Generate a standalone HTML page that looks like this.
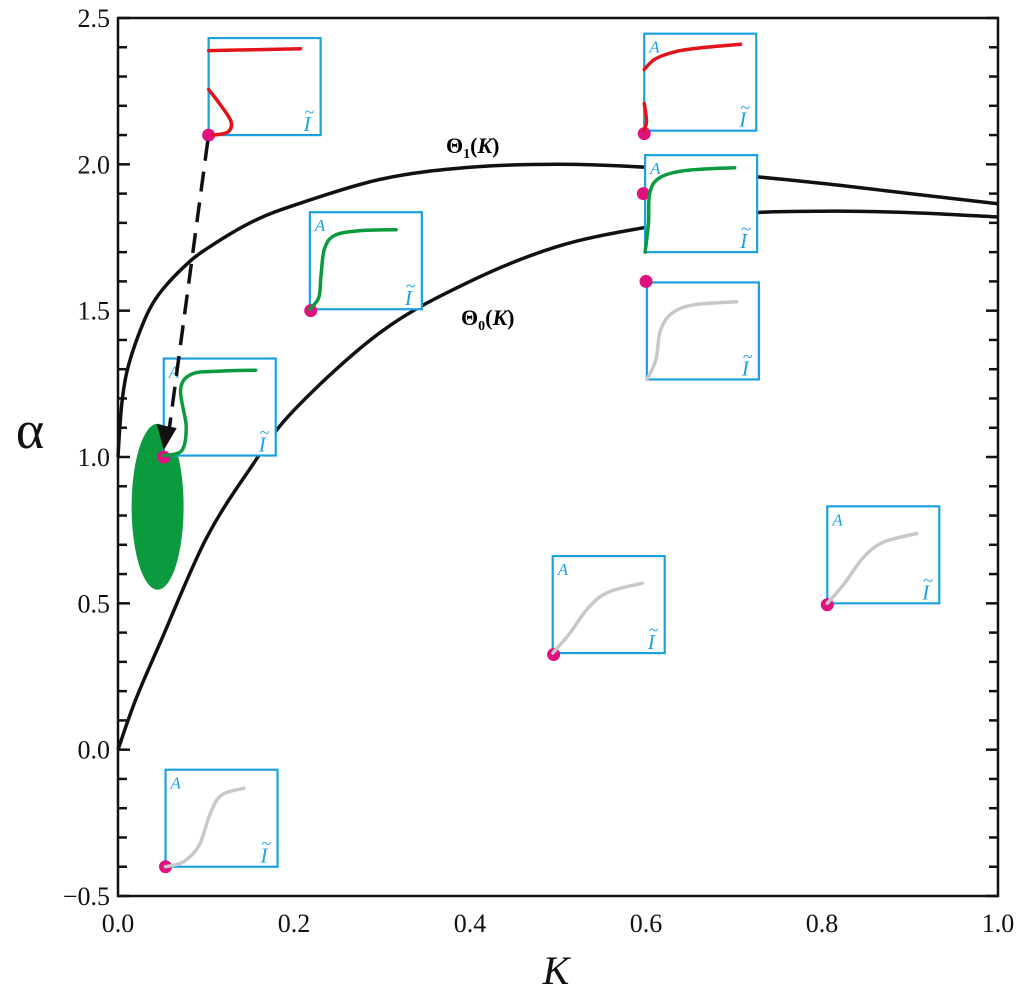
<!DOCTYPE html>
<html><head><meta charset="utf-8"><style>
html,body{margin:0;padding:0;background:#fff;}
svg{display:block;font-family:"Liberation Serif",serif;}
</style></head><body>
<svg id="chart" width="1024" height="997" viewBox="0 0 1024 997">
<g id="curves"></g>
<g id="region"></g>
<g id="insets"></g>
<g id="extras"></g>
<g id="axes"></g>
</svg>
<script>
const theta1K = [0, 0.002, 0.005, 0.01, 0.02, 0.035, 0.05, 0.075, 0.1, 0.15, 0.2, 0.3, 0.4, 0.5, 0.6, 0.7, 0.8, 0.9, 1.0];
const theta1A = [1.0, 1.1, 1.2, 1.29, 1.39, 1.5, 1.57, 1.65, 1.71, 1.8, 1.86, 1.95, 1.99, 2.0, 1.99, 1.965, 1.935, 1.9, 1.865];
const theta0K = [0, 0.02, 0.05, 0.1, 0.15, 0.2, 0.3, 0.4, 0.5, 0.6, 0.7, 0.8, 0.9, 1.0];
const theta0A = [0, 0.17, 0.38, 0.72, 0.96, 1.16, 1.43, 1.6, 1.72, 1.785, 1.83, 1.84, 1.835, 1.82];
const yTicks = [-0.5, 0.0, 0.5, 1.0, 1.5, 2.0, 2.5];
const xTicks = [0.0, 0.2, 0.4, 0.6, 0.8, 1.0];
const yTickLabels = ["\u22120.5", "0.0", "0.5", "1.0", "1.5", "2.0", "2.5"];
const xTickLabels = ["0.0", "0.2", "0.4", "0.6", "0.8", "1.0"];
const insetBoxK = [0.103, 0.218, 0.052, 0.054, 0.598, 0.599, 0.601, 0.494, 0.806];
const insetBoxA = [2.1, 1.505, 1.005, -0.4, 2.115, 1.7, 1.265, 0.33, 0.5];
const insetDotK = [0.103, 0.219, 0.052, 0.054, 0.598, 0.597, 0.6, 0.495, 0.806];
const insetDotA = [2.1, 1.5, 1.0, -0.4, 2.105, 1.9, 1.6, 0.325, 0.495];
const insetColor = ["#e3131b","#0c9a3e","#0c9a3e","#c8c8c8","#e3131b","#0c9a3e","#c8c8c8","#c8c8c8","#c8c8c8"];
const insetShowA = [false,true,true,true,true,true,false,true,true];
const insetCurves = [
  [[[0,0.87],[0.4,0.88],[0.82,0.89]], [[0,0.47],[0.1,0.32],[0.2,0.14],[0.17,0.03],[0.04,0]]],
  [[[0,0],[0.08,0.12],[0.1,0.35],[0.13,0.62],[0.22,0.76],[0.45,0.81],[0.77,0.82]]],
  [[[0,0],[0.16,0.05],[0.2,0.3],[0.15,0.68],[0.25,0.84],[0.5,0.87],[0.82,0.88]]],
  [[[0,0],[0.16,0.05],[0.3,0.22],[0.4,0.55],[0.5,0.74],[0.7,0.81]]],
  [[[0,0.63],[0.1,0.74],[0.3,0.82],[0.55,0.86],[0.86,0.89]], [[0,0.28],[0.02,0.1],[0,0]]],
  [[[0,0],[0.03,0.3],[0.04,0.6],[0.12,0.76],[0.35,0.84],[0.8,0.87]]],
  [[[0,0],[0.08,0.2],[0.12,0.5],[0.22,0.68],[0.42,0.77],[0.8,0.8]]],
  [[[0,0],[0.15,0.2],[0.32,0.47],[0.5,0.63],[0.8,0.72]]],
  [[[0,0],[0.15,0.2],[0.32,0.47],[0.5,0.63],[0.8,0.72]]]
];
const NS="http://www.w3.org/2000/svg";
const X0=118,X1=998,Y0=896,Y1=18,KMIN=0,KMAX=1,AMIN=-0.5,AMAX=2.5;
function xs(k){return X0+(k-KMIN)/(KMAX-KMIN)*(X1-X0);}
function ys(a){return Y0-(a-AMIN)/(AMAX-AMIN)*(Y0-Y1);}
function mk(tag,attrs,parent){const e=document.createElementNS(NS,tag);for(const k in attrs)e.setAttribute(k,attrs[k]);parent.appendChild(e);return e;}
function smooth(pts){
  if(pts.length<3){return "M"+pts.map(p=>p.join(",")).join("L");}
  let d="M"+pts[0][0]+","+pts[0][1];
  for(let i=0;i<pts.length-1;i++){
    const p0=pts[Math.max(0,i-1)],p1=pts[i],p2=pts[i+1],p3=pts[Math.min(pts.length-1,i+2)];
    const c1=[p1[0]+(p2[0]-p0[0])/6,p1[1]+(p2[1]-p0[1])/6];
    const c2=[p2[0]-(p3[0]-p1[0])/6,p2[1]-(p3[1]-p1[1])/6];
    d+="C"+c1[0].toFixed(1)+","+c1[1].toFixed(1)+" "+c2[0].toFixed(1)+","+c2[1].toFixed(1)+" "+p2[0].toFixed(1)+","+p2[1].toFixed(1);
  }
  return d;
}
const curves=document.getElementById('curves');
const c1=mk('path',{d:smooth(theta1K.map((k,i)=>[xs(k),ys(theta1A[i])])),fill:'none',stroke:'#111','stroke-width':3.5},curves);


const c0=mk('path',{d:smooth(theta0K.map((k,i)=>[xs(k),ys(theta0A[i])])),fill:'none',stroke:'#111','stroke-width':3.5},curves);


const l1=mk('text',{x:446,y:153,'font-size':22,'font-weight':'bold'},curves);
l1.innerHTML='\u0398<tspan font-size="14" dy="5">1</tspan><tspan dy="-5">(<tspan font-style="italic">K</tspan>)</tspan>';


const l0=mk('text',{x:461,y:325,'font-size':22,'font-weight':'bold'},curves);
l0.innerHTML='\u0398<tspan font-size="14" dy="5">0</tspan><tspan dy="-5">(<tspan font-style="italic">K</tspan>)</tspan>';


const rg=document.getElementById('region');
const el=mk('ellipse',{cx:xs(0.045),cy:ys(0.83),rx:26,ry:83,fill:'#0c9a3e'},rg);


const ins=document.getElementById('insets');
const BW=112,BH=97;
for(let i=0;i<insetBoxK.length;i++){
  const g=mk('g',{},ins);
  
  
  const bx=xs(insetBoxK[i]),by=ys(insetBoxA[i]);
  const r=mk('rect',{x:bx,y:by-BH,width:BW,height:BH,fill:'#fff',stroke:'#1ba1e2','stroke-width':2.2},g);
  
  
  const d=mk('circle',{cx:xs(insetDotK[i]),cy:ys(insetDotA[i]),r:6.5,fill:'#e0127f'},g);
  
  
  insetCurves[i].forEach(seg=>{
    const p=mk('path',{d:smooth(seg.map(q=>[bx+q[0]*BW,by-q[1]*BH])),fill:'none',stroke:insetColor[i],'stroke-width':3.5,'stroke-linecap':'round'},g);
    
    
  });
  if(insetShowA[i]){
    const t=mk('text',{x:bx+5,y:by-BH+19,'font-size':17,'font-style':'italic',fill:'#1ba1e2'},g);
    t.textContent='A';
    
    
  }
  const t2=mk('text',{x:bx+BW-17,y:by-4,'font-size':21,'font-style':'italic',fill:'#1ba1e2'},g);
  t2.textContent='I';
  
  
  const t3=mk('text',{x:bx+BW-16,y:by-17,'font-size':18,fill:'#1ba1e2'},g);
  t3.textContent='~';
  
  
}
const ex=document.getElementById('extras');
const ar=mk('path',{d:`M${xs(0.102)},${ys(2.08)} L${xs(0.058)},${ys(1.09)}`,stroke:'#111','stroke-width':3.5,'stroke-dasharray':'20,11',fill:'none'},ex);


const ah=mk('path',{d:`M${xs(0.052)-7},${ys(1.01)-30} L${xs(0.052)+13},${ys(1.01)-26} L${xs(0.052)},${ys(1.01)-4} Z`,fill:'#111'},ex);


const ax=document.getElementById('axes');
const fr=mk('rect',{x:X0,y:Y1,width:X1-X0,height:Y0-Y1,fill:'none',stroke:'#111','stroke-width':2.5},ax);


for(let v=-5;v<=25;v++){
  const a=v/10,y=ys(a),len=(v%5===0)?12:9;
  const t=mk('line',{x1:X0,y1:y,x2:X0+len,y2:y,stroke:'#111','stroke-width':2.5},ax);
  
  
  const t2=mk('line',{x1:X1,y1:y,x2:X1-len,y2:y,stroke:'#111','stroke-width':2.5},ax);
  
  
}
yTicks.forEach((v,i)=>{
  const t=mk('text',{x:X0-8,y:ys(v)+9,'font-size':26,'text-anchor':'end',fill:'#111'},ax);
  t.textContent=yTickLabels[i];
  
  
});
xTicks.forEach((v,i)=>{
  const t=mk('text',{x:xs(v),y:Y0+36,'font-size':26,'text-anchor':'middle',fill:'#111'},ax);
  t.textContent=xTickLabels[i];
  
  
});
const xt=mk('text',{x:556,y:984,'font-size':40,'font-style':'italic','text-anchor':'middle',fill:'#111'},ax);
xt.textContent='K';


const yt=mk('text',{x:30,y:448,'font-size':54,'text-anchor':'middle',fill:'#111'},ax);
yt.textContent='\u03b1';


</script>
</body></html>
